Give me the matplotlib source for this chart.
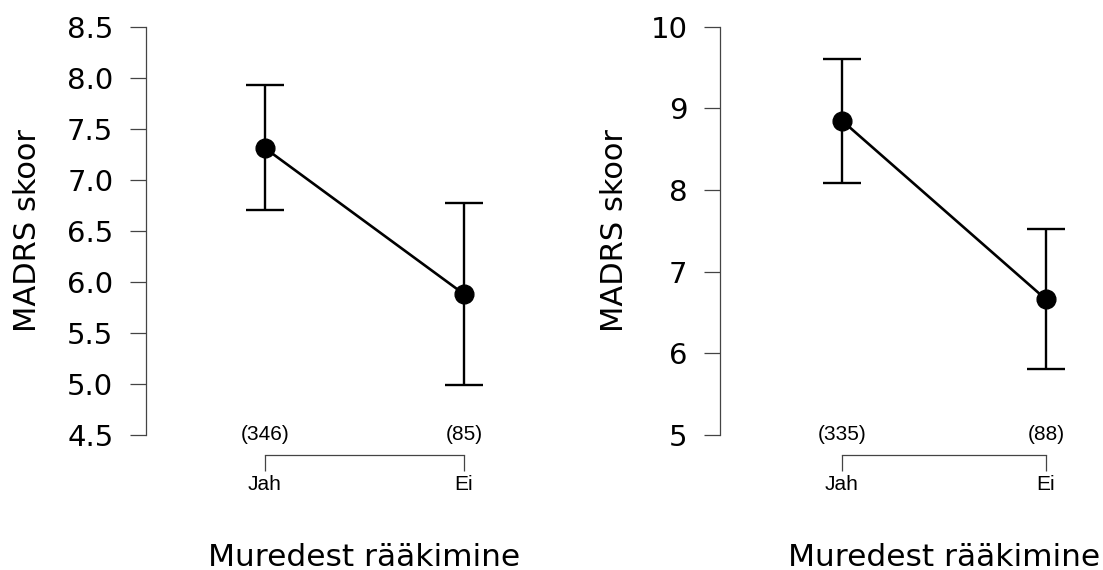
import numpy as np
import matplotlib
matplotlib.use("Agg")
import matplotlib.pyplot as plt
from matplotlib.transforms import blended_transform_factory

# data
categories = ["Jah", "Ei"]

left_mean = [7.31, 5.88]
left_lower = [6.70, 4.99]
left_upper = [7.93, 6.77]
left_n = [346, 85]
left_ticks = [4.5, 5.0, 5.5, 6.0, 6.5, 7.0, 7.5, 8.0, 8.5]

right_mean = [8.85, 6.66]
right_lower = [8.08, 5.81]
right_upper = [9.61, 7.52]
right_n = [335, 88]
right_ticks = [5, 6, 7, 8, 9, 10]

ylabel = "MADRS skoor"
xlabel = "Muredest rääkimine"

W, H = 1103, 570
fig = plt.figure(figsize=(W / 100, H / 100), dpi=100)


def panel(left_px, right_px, x0_px, x1_px, mean, lower, upper, n, ticks, tickfmt, ylab_px):
	y_top, y_bot = 26.7, 435.0
	ax = fig.add_axes([left_px / W, (H - y_bot) / H, (right_px - left_px) / W, (y_bot - y_top) / H])
	unit = x1_px - x0_px
	ax.set_xlim(-(x0_px - left_px) / unit, 1 + (right_px - x1_px) / unit)
	ax.set_ylim(ticks[0], ticks[-1])

	x = np.arange(len(categories))
	mean = np.array(mean)
	yerr = [mean - np.array(lower), np.array(upper) - mean]
	ax.errorbar(x, mean, yerr=yerr, color="black", lw=1.9, marker="o", ms=13.5,
				capsize=14, elinewidth=1.7, capthick=1.7, clip_on=False, zorder=3)

	for s in ["top", "right"]:
		ax.spines[s].set_visible(False)
	ax.spines["left"].set_color("#444444")
	ax.spines["left"].set_linewidth(0.9)
	ax.spines["bottom"].set_color("#444444")
	ax.spines["bottom"].set_linewidth(0.9)
	ax.spines["bottom"].set_bounds(0, 1)
	ax.spines["bottom"].set_position(("outward", 14.4))

	ax.set_yticks(ticks)
	ax.set_yticklabels([tickfmt % t for t in ticks], fontsize=21, family="DejaVu Sans")
	ax.tick_params(axis="y", length=11.5, width=0.9, color="#444444", pad=12)

	ax.set_xticks(x)
	ax.set_xticklabels(categories, fontsize=15, family="Liberation Sans")
	ax.tick_params(axis="x", length=11.3, width=0.9, color="#444444", pad=3)

	for xi, ni in zip(x, n):
		ax.text(xi, ticks[0], "(%d)" % ni, ha="center", va="center", fontsize=15,
				family="Liberation Sans", clip_on=False)

	ax.set_ylabel(ylabel, fontsize=22, family="DejaVu Sans")
	ax.yaxis.set_label_coords((ylab_px - left_px) / (right_px - left_px), 0.5)

	tr = blended_transform_factory(ax.transData, fig.transFigure)
	ax.text(0.5, (H - 566) / H, xlabel, transform=tr, ha="center", va="baseline",
			fontsize=22.5, family="DejaVu Sans")
	return ax


ax1 = panel(146, 560, 265, 464, left_mean, left_lower, left_upper, left_n, left_ticks, "%.1f", 42)
ax2 = panel(720, 1100, 842, 1046, right_mean, right_lower, right_upper, right_n, right_ticks, "%d", 629)

fig.savefig("out.png", dpi=100)
